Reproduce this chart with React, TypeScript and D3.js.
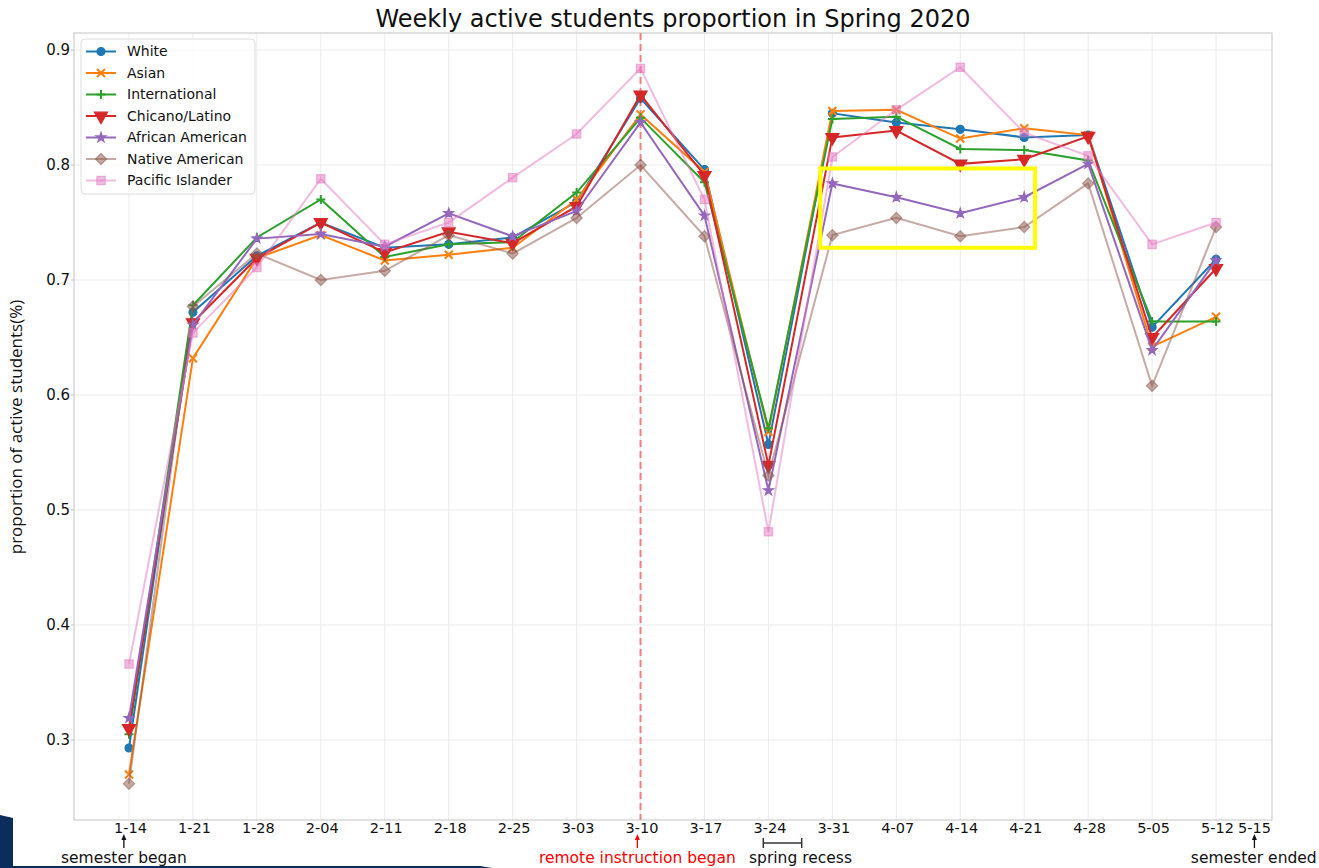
import React from 'react';
import * as d3 from 'd3';

// week labels (x axis)
const weeks = ['1-14', '1-21', '1-28', '2-04', '2-11', '2-18', '2-25', '3-03', '3-10', '3-17', '3-24', '3-31', '4-07', '4-14', '4-21', '4-28', '5-05', '5-12'];
const yTicks = [0.3, 0.4, 0.5, 0.6, 0.7, 0.8, 0.9];

const white = [0.293, 0.672, 0.721, 0.750, 0.728, 0.731, 0.737, 0.768, 0.858, 0.796, 0.557, 0.845, 0.837, 0.831, 0.824, 0.826, 0.659, 0.718];
const asian = [0.270, 0.632, 0.719, 0.739, 0.717, 0.722, 0.728, 0.770, 0.844, 0.794, 0.568, 0.847, 0.848, 0.823, 0.832, 0.826, 0.642, 0.668];
const international = [0.305, 0.678, 0.737, 0.770, 0.720, 0.731, 0.733, 0.776, 0.841, 0.785, 0.571, 0.840, 0.842, 0.814, 0.813, 0.804, 0.664, 0.664];
const chicanoLatino = [0.310, 0.663, 0.719, 0.750, 0.724, 0.742, 0.732, 0.764, 0.861, 0.791, 0.539, 0.824, 0.830, 0.801, 0.805, 0.825, 0.650, 0.710];
const africanAmerican = [0.319, 0.661, 0.736, 0.740, 0.729, 0.758, 0.738, 0.760, 0.837, 0.756, 0.517, 0.784, 0.772, 0.758, 0.772, 0.801, 0.639, 0.717];
const nativeAmerican = [0.262, 0.677, 0.723, 0.700, 0.708, 0.739, 0.723, 0.754, 0.800, 0.738, 0.530, 0.739, 0.754, 0.738, 0.746, 0.784, 0.608, 0.746];
const pacificIslander = [0.366, 0.654, 0.711, 0.788, 0.731, 0.750, 0.789, 0.827, 0.884, 0.770, 0.481, 0.807, 0.848, 0.885, 0.828, 0.808, 0.731, 0.750];

const series = [
  { name: 'White', values: white, color: '#1f77b4', marker: 'circle', alpha: 1 },
  { name: 'Asian', values: asian, color: '#ff7f0e', marker: 'x', alpha: 1 },
  { name: 'International', values: international, color: '#2ca02c', marker: 'plus', alpha: 1 },
  { name: 'Chicano/Latino', values: chicanoLatino, color: '#d62728', marker: 'tri', alpha: 1 },
  { name: 'African American', values: africanAmerican, color: '#9467bd', marker: 'star', alpha: 1 },
  { name: 'Native American', values: nativeAmerican, color: '#8c564b', marker: 'diamond', alpha: 0.5 },
  { name: 'Pacific Islander', values: pacificIslander, color: '#e377c2', marker: 'square', alpha: 0.5 },
];

// annotation positions in week units
const remoteWeek = 8;
const recessStart = 9.92;
const recessEnd = 10.52;
const highlight = { x0: 10.81, x1: 14.17, y0: 0.728, y1: 0.797 };

const W = 1319;
const H = 868;
const left = 74, right = 1272, top = 33, bottom = 820;
const font = 'DejaVu Sans, sans-serif';

const x = d3.scaleLinear().domain([-0.86, 17.875]).range([left, right]);
const y = d3.scaleLinear().domain([0.2304, 0.9148]).range([bottom, top]);

function markerPath(kind: string): string {
  switch (kind) {
    case 'circle': return d3.symbol(d3.symbolCircle, 50)()!;
    case 'tri': return d3.symbol(d3.symbolTriangle, 75)()!;
    case 'star': return d3.symbol(d3.symbolStar, 30)()!;
    case 'diamond': return d3.symbol(d3.symbolSquare, 64)()!;
    case 'square': return d3.symbol(d3.symbolSquare, 70)()!;
    case 'x': return 'M-4,-4L4,4M-4,4L4,-4';
    case 'plus': return 'M-4.5,0L4.5,0M0,-4.5L0,4.5';
    default: return '';
  }
}

function Marker({ kind, color, alpha, cx, cy }: any) {
  const d = markerPath(kind);
  const rot = kind === 'tri' ? 180 : kind === 'diamond' ? 45 : 0;
  const stroked = kind === 'x' || kind === 'plus';
  return (
    <path
      d={d}
      transform={`translate(${cx},${cy}) rotate(${rot})`}
      fill={stroked ? 'none' : color}
      fillOpacity={alpha}
      stroke={color}
      strokeOpacity={alpha}
      strokeWidth={stroked ? 2 : 1.2}
    />
  );
}

export default function App() {
  const line = d3.line<number>().x((_, i) => x(i)).y(d => y(d));

  return (
    <svg width={W} height={H} style={{ position: 'absolute', left: 0, top: 0, background: '#fff' }} fontFamily={font}>
      <rect x={0} y={0} width={W} height={H} fill="#fff" />

      {/* grid */}
      {weeks.map((_, i) => (
        <line key={'gx' + i} x1={x(i)} x2={x(i)} y1={top} y2={bottom} stroke="#ebebeb" strokeWidth={1} />
      ))}
      {yTicks.map(t => (
        <line key={'gy' + t} x1={left} x2={right} y1={y(t)} y2={y(t)} stroke="#ebebeb" strokeWidth={1} />
      ))}

      {/* frame */}
      <rect x={left} y={top} width={right - left} height={bottom - top} fill="none" stroke="#c4c4c4" strokeWidth={1} />

      {/* remote instruction line */}
      <line x1={x(remoteWeek)} x2={x(remoteWeek)} y1={top} y2={bottom} stroke="#f08080" strokeWidth={2} strokeDasharray="7,4" />

      {/* y ticks */}
      {yTicks.map(t => (
        <g key={'ty' + t}>
          <line x1={left - 3} x2={left} y1={y(t)} y2={y(t)} stroke="#c4c4c4" />
          <text x={left - 4} y={y(t)} dy="0.35em" textAnchor="end" fontSize={15} fill="#111">{t.toFixed(1)}</text>
        </g>
      ))}
      {/* x ticks */}
      {weeks.map((w, i) => (
        <text key={'tx' + i} x={x(i) + 1.5} y={833} textAnchor="middle" fontSize={14.5} fill="#111">{w}</text>
      ))}
      <text x={x(17.6)} y={833} textAnchor="middle" fontSize={14.5} fill="#111">5-15</text>

      <text transform={`translate(22,427) rotate(-90)`} textAnchor="middle" fontSize={17} fontFamily="Open Sans, sans-serif" fill="#111">
        proportion of active students(%)
      </text>

      <text x={673} y={27} textAnchor="middle" fontSize={24} fill="#111">Weekly active students proportion in Spring 2020</text>

      {/* series */}
      {series.map(s => (
        <g key={s.name}>
          <path d={line(s.values)!} fill="none" stroke={s.color} strokeOpacity={s.alpha} strokeWidth={2} />
          {s.values.map((v, i) => (
            <Marker key={i} kind={s.marker} color={s.color} alpha={s.alpha} cx={x(i)} cy={y(v)} />
          ))}
        </g>
      ))}

      {/* highlight box */}
      <rect
        x={x(highlight.x0)}
        y={y(highlight.y1)}
        width={x(highlight.x1) - x(highlight.x0)}
        height={y(highlight.y0) - y(highlight.y1)}
        fill="none"
        stroke="#ffff00"
        strokeWidth={4}
      />

      {/* legend */}
      <g>
        <rect x={81} y={39} width={174} height={155} rx={4} fill="#fff" fillOpacity={0.8} stroke="#dddddd" />
        {series.map((s, i) => {
          const ly = 51.5 + i * 21.5;
          return (
            <g key={'lg' + s.name}>
              <line x1={86} x2={116} y1={ly} y2={ly} stroke={s.color} strokeOpacity={s.alpha} strokeWidth={2} />
              <Marker kind={s.marker} color={s.color} alpha={s.alpha} cx={101} cy={ly} />
              <text x={127} y={ly} dy="0.35em" fontSize={14} fill="#111">{s.name}</text>
            </g>
          );
        })}
      </g>

      {/* annotations under the axis */}
      {[
        { wx: -0.08, color: '#111', label: 'semester began', lx: -0.08 },
        { wx: 7.95, color: '#ff0000', label: 'remote instruction began', lx: 7.95 },
        { wx: 17.6, color: '#111', label: 'semester ended', lx: 17.59 },
      ].map(a => (
        <g key={a.label}>
          <line x1={x(a.wx)} x2={x(a.wx)} y1={848} y2={838} stroke={a.color} strokeWidth={1.3} />
          <path d={`M${x(a.wx) - 2.5},840 L${x(a.wx)},834 L${x(a.wx) + 2.5},840 Z`} fill={a.color} />
          <text x={x(a.lx)} y={863} textAnchor="middle" fontSize={15.5} fill={a.color}>{a.label}</text>
        </g>
      ))}
      <g stroke="#333" strokeWidth={1.5}>
        <line x1={x(recessStart)} x2={x(recessEnd)} y1={843} y2={843} />
        <line x1={x(recessStart)} x2={x(recessStart)} y1={838} y2={848} />
        <line x1={x(recessEnd)} x2={x(recessEnd)} y1={838} y2={848} />
      </g>
      <text x={800.5} y={863} textAnchor="middle" fontSize={15.5} fill="#111">spring recess</text>

      {/* slide edge visible in the screenshot */}
      <path d="M0,815 L13,818 L13,868 L0,868 Z" fill="#0b2d5b" />
      <path d="M0,866 L480,866 L492,868 L0,868 Z" fill="#0b2d5b" />
    </svg>
  );
}
